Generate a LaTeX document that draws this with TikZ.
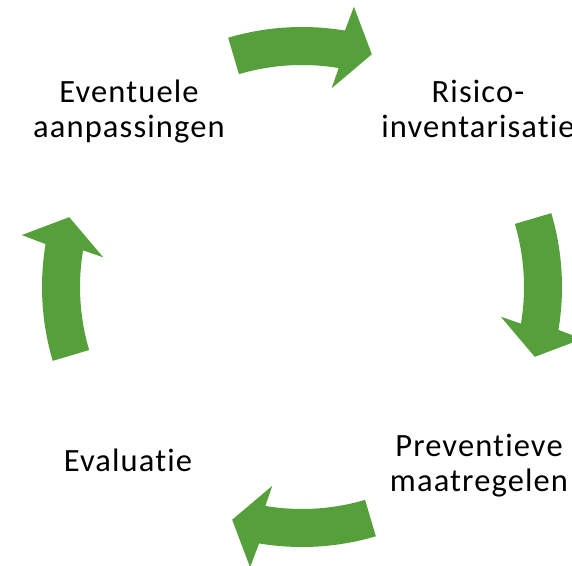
\documentclass[tikz,border=0pt]{standalone}
\usepackage{fontspec}
\setmainfont{Carlito}[Ligatures={NoCommon}, LetterSpace=3.5]
\definecolor{arrowgreen}{RGB}{85,160,59}
\tikzset{
  arrowfill/.style={fill=arrowgreen, draw=none},
  lbl/.style={align=center, font=\fontsize{32.5pt}{35pt}\selectfont, inner sep=0pt, text=black, anchor=base}
}
\newcommand{\cycarrow}[1]{%
  \fill[arrowfill] ({#1+16.5}:260pt) arc[start angle={#1+16.5}, end angle={#1-9.5}, radius=260pt]
    -- ({#1-10.5}:285pt) -- ({#1-16.7}:243pt) -- ({#1-8.5}:201pt) -- ({#1-9.5}:222pt)
    arc[start angle={#1-9.5}, end angle={#1+16.5}, radius=222pt] -- cycle;}
\begin{document}
\begin{tikzpicture}
\useasboundingbox (0pt,0pt) rectangle (572pt,565pt);
\clip (0pt,0pt) rectangle (572pt,565pt);
\begin{scope}[shift={(302pt,278pt)}]
  \cycarrow{90}
  \cycarrow{0}
  \cycarrow{-90}
  \cycarrow{180}
\end{scope}
\node[lbl] (aanp) at (129pt,427pt) {Eventuele\\aanpassingen};
\node[lbl] (risico) at (478pt,427pt) {Risico-\\inventarisatie};
\node[lbl] (prev) at (479pt,74pt) {Preventieve\\maatregelen};
\node[lbl] (eval) at (128pt,94pt) {Evaluatie};
\end{tikzpicture}
\end{document}
